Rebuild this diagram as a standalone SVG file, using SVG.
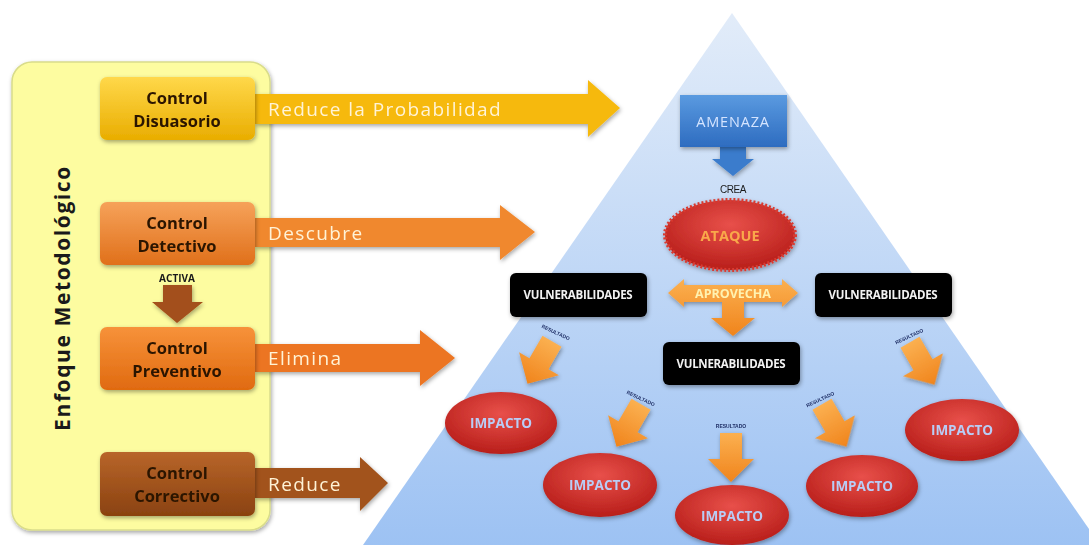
<svg xmlns="http://www.w3.org/2000/svg" width="1089" height="545" viewBox="0 0 1089 545">
<defs>
  <linearGradient id="gTri" x1="0" y1="0" x2="0" y2="1">
    <stop offset="0" stop-color="#e2ecf9"/>
    <stop offset="1" stop-color="#9dc2f3"/>
  </linearGradient>
  <linearGradient id="gYel" x1="0" y1="0" x2="0" y2="1">
    <stop offset="0" stop-color="#ffd84a"/>
    <stop offset="1" stop-color="#e9ad00"/>
  </linearGradient>
  <linearGradient id="gOr1" x1="0" y1="0" x2="0" y2="1">
    <stop offset="0" stop-color="#f6a25a"/>
    <stop offset="1" stop-color="#e0701a"/>
  </linearGradient>
  <linearGradient id="gOr2" x1="0" y1="0" x2="0" y2="1">
    <stop offset="0" stop-color="#f7923a"/>
    <stop offset="1" stop-color="#e06a10"/>
  </linearGradient>
  <linearGradient id="gBr" x1="0" y1="0" x2="0" y2="1">
    <stop offset="0" stop-color="#b8652a"/>
    <stop offset="1" stop-color="#8a4210"/>
  </linearGradient>
  <linearGradient id="gBlue" x1="0" y1="0" x2="0" y2="1">
    <stop offset="0" stop-color="#5a9ae0"/>
    <stop offset="1" stop-color="#2e6cc0"/>
  </linearGradient>
  <radialGradient id="gRed" cx="0.5" cy="0.35" r="0.65">
    <stop offset="0" stop-color="#e8504a"/>
    <stop offset="1" stop-color="#b81e1a"/>
  </radialGradient>
  <linearGradient id="gArr" x1="0" y1="0" x2="0" y2="1">
    <stop offset="0" stop-color="#fbb050"/>
    <stop offset="1" stop-color="#f0841c"/>
  </linearGradient>
  <filter id="sh" x="-20%" y="-20%" width="140%" height="150%">
    <feDropShadow dx="1" dy="2" stdDeviation="2" flood-color="#000" flood-opacity="0.35"/>
  </filter>
  <path id="fatDown" d="M-11,-24 L11,-24 L11,2 L23,2 L0,25 L-23,2 L-11,2 Z"/>
  <style>
    .ctl{font-family:"Open Sans","Liberation Sans",sans-serif;font-weight:bold;font-size:16.5px;fill:#2b1500;text-anchor:middle}
    .lbl{font-family:"Open Sans","Liberation Sans",sans-serif;font-size:19px;letter-spacing:1.4px;fill:#fff3d6}
    .vul{font-family:"Open Sans","Liberation Sans",sans-serif;font-weight:bold;font-size:11.5px;fill:#f2f2f2;text-anchor:middle;letter-spacing:-0.3px}
    .imp{font-family:"Open Sans","Liberation Sans",sans-serif;font-weight:bold;font-size:13.5px;fill:#b9cdf6;text-anchor:middle}
    .tiny{font-family:"Liberation Sans",sans-serif;font-weight:bold;font-size:5px;fill:#1f2f66;text-anchor:middle}
    .box{stroke:none;filter:url(#sh)}
  </style>
</defs>

<rect width="1089" height="545" fill="#ffffff"/>

<!-- pyramid background -->
<polygon points="732,13 1100,545 363,545" fill="url(#gTri)"/>

<!-- left panel -->
<g id="panel">
  <rect x="12" y="62" width="258" height="468" rx="20" fill="#fdfca0" stroke="#d9dc8a" stroke-width="1.5" filter="url(#sh)"/>
  <text transform="translate(70,298) rotate(-90)" font-family="Open Sans, Liberation Sans, sans-serif" font-weight="bold" font-size="21" letter-spacing="1.6" fill="#1a1a1a" text-anchor="middle">Enfoque Metodológico</text>
</g>

<!-- connectors -->
<g id="connectors">
  <g filter="url(#sh)">
    <path d="M255,94 L588,94 L588,80 L620,108 L588,137 L588,124 L255,124 Z" fill="#f6b90e"/>
    <path d="M255,218 L500,218 L500,205 L535,232 L500,260 L500,247 L255,247 Z" fill="#f0882e"/>
    <path d="M255,344 L420,344 L420,330 L455,358 L420,386 L420,372 L255,372 Z" fill="#ec7420"/>
    <path d="M255,468 L360,468 L360,457 L388,483 L360,511 L360,498 L255,498 Z" fill="#a2521a"/>
    <path d="M163,285 L192,285 L192,302 L203,302 L177,323 L152,302 L163,302 Z" fill="#a3501a"/>
    <path d="M720,147 L746,147 L746,159 L754,159 L733,176 L712,159 L720,159 Z" fill="#3a7ccc"/>
    <path d="M668,293 L684,279 L684,285 L782,285 L782,279 L798,293 L782,307 L782,302 L744,302 L744,318 L755,318 L733,336 L711,318 L722,318 L722,302 L684,302 L684,307 Z" fill="url(#gArr)"/>
    <use href="#fatDown" transform="translate(540,362) rotate(30)" fill="url(#gArr)"/>
    <use href="#fatDown" transform="translate(629,425) rotate(30)" fill="url(#gArr)"/>
    <use href="#fatDown" transform="translate(731,457)" fill="url(#gArr)"/>
    <use href="#fatDown" transform="translate(834,425) rotate(-30)" fill="url(#gArr)"/>
    <use href="#fatDown" transform="translate(922,363) rotate(-30)" fill="url(#gArr)"/>
  </g>
  <text class="lbl" x="268" y="116">Reduce la Probabilidad</text>
  <text class="lbl" x="268" y="240">Descubre</text>
  <text class="lbl" x="268" y="365">Elimina</text>
  <text class="lbl" x="268" y="491">Reduce</text>
  <text x="177" y="282" font-family="Open Sans, Liberation Sans, sans-serif" font-weight="bold" font-size="10" fill="#1a1a1a" text-anchor="middle">ACTIVA</text>
  <text x="733" y="193" font-family="Liberation Sans, sans-serif" font-size="10" fill="#1a1a1a" text-anchor="middle" letter-spacing="-0.4">CREA</text>
  <text x="733" y="297.5" font-family="Open Sans, Liberation Sans, sans-serif" font-weight="bold" font-size="12.5" fill="#fff2b0" text-anchor="middle">APROVECHA</text>
  <text class="tiny" transform="translate(555,334) rotate(25)">RESULTADO</text>
  <text class="tiny" transform="translate(640,400) rotate(25)">RESULTADO</text>
  <text class="tiny" transform="translate(731,428)">RESULTADO</text>
  <text class="tiny" transform="translate(821,401) rotate(-25)">RESULTADO</text>
  <text class="tiny" transform="translate(910,338) rotate(-25)">RESULTADO</text>
</g>

<!-- controls -->
<g id="ctl-disuasorio">
  <rect class="box" x="100" y="77" width="155" height="63" rx="7" fill="url(#gYel)"/>
  <text class="ctl" x="177" y="104">Control</text>
  <text class="ctl" x="177" y="127">Disuasorio</text>
</g>
<g id="ctl-detectivo">
  <rect class="box" x="100" y="202" width="155" height="63" rx="7" fill="url(#gOr1)"/>
  <text class="ctl" x="177" y="229">Control</text>
  <text class="ctl" x="177" y="252">Detectivo</text>
</g>
<g id="ctl-preventivo">
  <rect class="box" x="100" y="327" width="155" height="63" rx="7" fill="url(#gOr2)"/>
  <text class="ctl" x="177" y="354">Control</text>
  <text class="ctl" x="177" y="377">Preventivo</text>
</g>
<g id="ctl-correctivo">
  <rect class="box" x="100" y="452" width="155" height="64" rx="7" fill="url(#gBr)"/>
  <text class="ctl" x="177" y="479">Control</text>
  <text class="ctl" x="177" y="502">Correctivo</text>
</g>

<!-- pyramid nodes -->
<g id="amenaza">
  <rect class="box" x="680" y="95" width="107" height="52" fill="url(#gBlue)"/>
  <text x="733" y="127" font-family="Open Sans, Liberation Sans, sans-serif" font-size="14.5" letter-spacing="0.8" fill="#d4e4ff" text-anchor="middle">AMENAZA</text>
</g>
<g id="ataque">
  <ellipse cx="730" cy="235" rx="65" ry="35" fill="url(#gRed)" stroke="#d83a30" stroke-width="4" stroke-dasharray="2 2" filter="url(#sh)"/>
  <text x="730" y="241" font-family="Open Sans, Liberation Sans, sans-serif" font-weight="bold" font-size="14.5" fill="#f9a84a" text-anchor="middle">ATAQUE</text>
</g>
<g id="vul-left">
  <rect class="box" x="510" y="273" width="137" height="44" rx="6" fill="#050505"/>
  <text class="vul" x="578" y="299">VULNERABILIDADES</text>
</g>
<g id="vul-right">
  <rect class="box" x="815" y="273" width="137" height="44" rx="6" fill="#050505"/>
  <text class="vul" x="883" y="299">VULNERABILIDADES</text>
</g>
<g id="vul-mid">
  <rect class="box" x="663" y="342" width="137" height="43" rx="6" fill="#050505"/>
  <text class="vul" x="731" y="368">VULNERABILIDADES</text>
</g>
<g id="imp1">
  <ellipse cx="501" cy="423" rx="56" ry="31" fill="url(#gRed)" filter="url(#sh)"/>
  <text class="imp" x="501" y="428">IMPACTO</text>
</g>
<g id="imp2">
  <ellipse cx="600" cy="485" rx="57" ry="32" fill="url(#gRed)" filter="url(#sh)"/>
  <text class="imp" x="600" y="490">IMPACTO</text>
</g>
<g id="imp3">
  <ellipse cx="732" cy="515" rx="57" ry="30" fill="url(#gRed)" filter="url(#sh)"/>
  <text class="imp" x="732" y="521">IMPACTO</text>
</g>
<g id="imp4">
  <ellipse cx="862" cy="486" rx="56" ry="31" fill="url(#gRed)" filter="url(#sh)"/>
  <text class="imp" x="862" y="491">IMPACTO</text>
</g>
<g id="imp5">
  <ellipse cx="962" cy="430" rx="57" ry="31" fill="url(#gRed)" filter="url(#sh)"/>
  <text class="imp" x="962" y="435">IMPACTO</text>
</g>
</svg>
